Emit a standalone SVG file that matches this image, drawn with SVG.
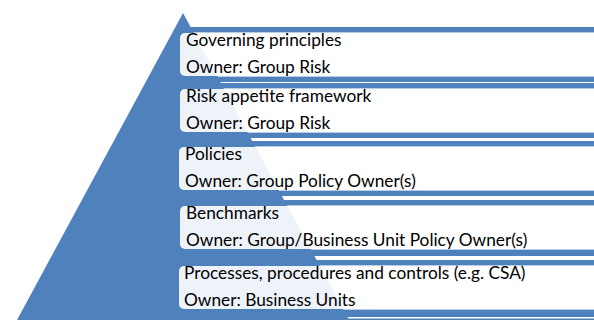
<svg xmlns="http://www.w3.org/2000/svg" width="594" height="320" viewBox="0 0 594 320">
  <style>
    .band { fill: #4f81bd; }
    .gap { fill: #ffffff; }
    .edge { fill: #b9cde5; }
    .pyr { fill: #4f81bd; }
    .box { fill: #ffffff; fill-opacity: 0.9; }
    .t { font-family: Lato, "Liberation Sans", sans-serif; font-size: 17.3px; fill: #000000; }
  </style>

  <!-- striped backdrop: blue rules between tiers, white interiors and hairline gaps -->
  <g id="backdrop">
    <rect class="band" x="183" y="27" width="411" height="293"/>
    <!-- tier interiors -->
    <rect class="gap" x="183" y="32" width="411" height="45"/>
    <rect class="gap" x="183" y="88" width="411" height="45"/>
    <rect class="gap" x="183" y="146" width="411" height="45"/>
    <rect class="gap" x="183" y="205" width="411" height="45"/>
    <rect class="gap" x="183" y="265" width="411" height="45"/>
    <!-- light edges along the blue rules -->
    <rect class="edge" x="183" y="32" width="411" height="1"/>
    <rect class="edge" x="183" y="76" width="411" height="1"/>
    <rect class="edge" x="183" y="88" width="411" height="1"/>
    <rect class="edge" x="183" y="132" width="411" height="1"/>
    <rect class="edge" x="183" y="146" width="411" height="1"/>
    <rect class="edge" x="183" y="190" width="411" height="1"/>
    <rect class="edge" x="183" y="205" width="411" height="1"/>
    <rect class="edge" x="183" y="249" width="411" height="1"/>
    <rect class="edge" x="183" y="265" width="411" height="1"/>
    <rect class="edge" x="183" y="309" width="411" height="1"/>
    <!-- hairline gaps between tiers -->
    <rect class="gap" x="183" y="82" width="411" height="1"/>
    <rect class="gap" x="183" y="138" width="411" height="3"/>
    <rect class="gap" x="183" y="196" width="411" height="4"/>
    <rect class="gap" x="183" y="256" width="411" height="4"/>
    <rect class="gap" x="183" y="317" width="411" height="1.5"/>
  </g>

  <!-- pyramid -->
  <g id="pyramid">
    <polygon class="pyr" points="183,13 349,320 17,320"/>
  </g>

  <g id="tier-1">
    <rect class="box" x="180" y="33" width="430" height="43" rx="5"/>
    <text class="t" x="186" y="46">Governing principles</text>
    <text class="t" x="186" y="73">Owner: Group Risk</text>
  </g>

  <g id="tier-2">
    <rect class="box" x="180" y="89" width="430" height="43" rx="5"/>
    <text class="t" x="186" y="102">Risk appetite framework</text>
    <text class="t" x="186" y="129">Owner: Group Risk</text>
  </g>

  <g id="tier-3">
    <rect class="box" x="179" y="147" width="430" height="43" rx="5"/>
    <text class="t" x="185" y="160">Policies</text>
    <text class="t" x="185" y="187">Owner: Group Policy Owner(s)</text>
  </g>

  <g id="tier-4">
    <rect class="box" x="180" y="206" width="430" height="43" rx="5"/>
    <text class="t" x="186" y="219">Benchmarks</text>
    <text class="t" x="186" y="246">Owner: Group/Business Unit Policy Owner(s)</text>
  </g>

  <g id="tier-5">
    <rect class="box" x="179" y="266" width="430" height="43" rx="5"/>
    <text class="t" x="184" y="279">Processes, procedures and controls (e.g. CSA)</text>
    <text class="t" x="184" y="306">Owner: Business Units</text>
  </g>
</svg>
